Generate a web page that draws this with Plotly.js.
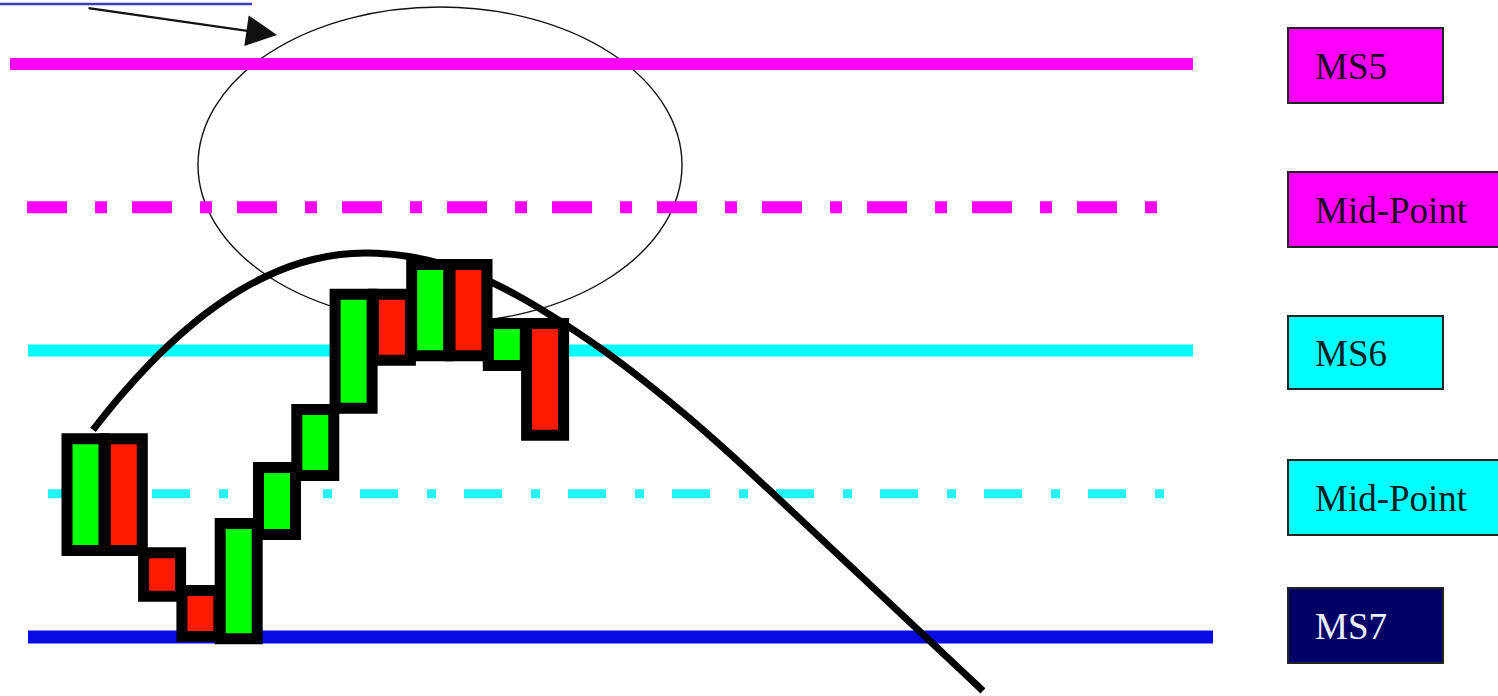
<!DOCTYPE html>
<html>
<head>
<meta charset="utf-8">
<script src="https://cdn.plot.ly/plotly-3.0.1.min.js"></script>
<style>html,body{margin:0;padding:0;background:#fff;}#chart{width:1498px;height:696px;}</style>
</head>
<body>
<div id="chart"></div>
<script>
// ---- data ----
const candleIndex = [0,1,2,3,4,5,6,7,8,9,10,11,12];
const candleOpen  = [115.1,134.6,114.7,108.1, 99.7,117.9,128.2,139.9,159.8,149.1,165.0,147.4,154.7];
const candleClose = [134.6,115.1,107.1,100.1,119.8,129.6,139.7,159.8,148.3,165.0,149.1,154.7,135.2];

const levelNames  = ["MS5","Mid-Point","MS6","Mid-Point","MS7"];
const levelValues = [200, 175, 150, 125, 100];

const curveX = [0.196,0.901,1.684,2.206,2.728,3.251,4.034,4.739,5.339,5.940,6.645,7.298,7.950,8.394,9.256,10.039,10.640,11.345,12.050,12.781,13.616,14.478,15.783,16.828,17.950,18.916,19.961,21.005,21.867,22.833,23.433];
const curveY = [136.16,141.97,147.73,151.15,154.24,157.00,160.51,163.00,164.68,165.88,166.75,167.02,166.82,166.46,165.22,163.49,161.78,159.34,156.56,153.44,149.58,145.25,138.10,131.95,125.04,118.97,112.41,105.85,100.44,94.36,90.59];

// ---- styling / geometry ----
const W = 1498, H = 696;
const px = v => v / W;
const py = v => 1 - v / H;

const levelStyle = [
  {color:"#ff00ff", width:12, dash:"solid", x0:-1.971, x1:28.916, box:"#ff00ff", txt:"#1a0820", boxY:[28,103],  boxX:[1288,1443]},
  {color:"#ff00ff", width:12, dash:"40px,28px,12px,25px", x0:-1.527, x1:28.055, box:"#ff00ff", txt:"#1a0820", boxY:[172,247], boxX:[1288,1502]},
  {color:"#00ffff", width:12, dash:"solid", x0:-1.501, x1:28.916, box:"#00ffff", txt:"#06201f", boxY:[316,389], boxX:[1288,1443]},
  {color:"#22f4f4", width:9,  dash:"38px,29px,9px,28px", x0:-0.979, x1:28.47, box:"#00ffff", txt:"#06201f", boxY:[460,535], boxX:[1288,1502]},
  {color:"#0a0ae6", width:13, dash:"solid", x0:-1.501, x1:29.439, box:"#000066", txt:"#eef0ff", boxY:[588,663], boxX:[1288,1443]}
];

const traces = [];
levelValues.forEach((v,i) => {
  const s = levelStyle[i];
  traces.push({
    type:"scatter", mode:"lines", x:[s.x0, s.x1], y:[v, v],
    line:{color:s.color, width:s.width, dash:s.dash},
    hoverinfo:"skip", showlegend:false, zorder:0
  });
});

traces.push({
  type:"scatter", mode:"lines", x:curveX, y:curveY,
  line:{color:"#000", width:7, shape:"spline", smoothing:1},
  hoverinfo:"skip", showlegend:false, zorder:1
});

const base = candleOpen.map((o,i) => Math.min(o, candleClose[i]));
const size = candleOpen.map((o,i) => Math.abs(candleClose[i] - o));
const colors = candleOpen.map((o,i) => candleClose[i] >= o ? "#00ff00" : "#ff1a00");
traces.push({
  type:"bar", x:candleIndex, y:size, base:base, width:0.966,
  marker:{color:colors, line:{color:"#000", width:11}},
  hoverinfo:"skip", showlegend:false, zorder:2
});

const shapes = [];
const annotations = [];

// ellipse highlight
shapes.push({type:"circle", xref:"paper", yref:"paper",
  x0:px(198), x1:px(682), y0:py(323), y1:py(7),
  line:{color:"#111", width:1.4}, fillcolor:"rgba(0,0,0,0)", layer:"below"});

// underline of cut-off link text
shapes.push({type:"line", xref:"paper", yref:"paper",
  x0:px(0), x1:px(252), y0:py(4), y1:py(4), line:{color:"#3b3bc8", width:2.5}});

// arrow
annotations.push({xref:"paper", yref:"paper", x:px(277), y:py(35), text:"",
  showarrow:true, axref:"pixel", ayref:"pixel", ax:-190, ay:-27,
  arrowhead:2, arrowsize:2.8, arrowwidth:2.2, arrowcolor:"#111"});

// label boxes
levelNames.forEach((n,i) => {
  const s = levelStyle[i];
  shapes.push({type:"rect", xref:"paper", yref:"paper",
    x0:px(s.boxX[0]), x1:px(s.boxX[1]), y0:py(s.boxY[1]), y1:py(s.boxY[0]),
    fillcolor:s.box, line:{color:"#222", width:2}});
  annotations.push({xref:"paper", yref:"paper", x:px(1313), y:py((s.boxY[0]+s.boxY[1])/2 + 1),
    xanchor:"left", yanchor:"middle", showarrow:false, text:n,
    font:{family:"Liberation Serif, Times New Roman, serif", size:37, color:s.txt}});
});

const layout = {
  width:W, height:H, margin:{l:0,r:0,t:0,b:0},
  paper_bgcolor:"#fff", plot_bgcolor:"#fff",
  xaxis:{range:[-2.2324, 36.8799], visible:false, fixedrange:true},
  yaxis:{range:[89.703, 211.169], visible:false, fixedrange:true},
  barmode:"overlay", showlegend:false,
  shapes:shapes, annotations:annotations
};

Plotly.newPlot("chart", traces, layout, {staticPlot:true, displayModeBar:false});
</script>
</body>
</html>
